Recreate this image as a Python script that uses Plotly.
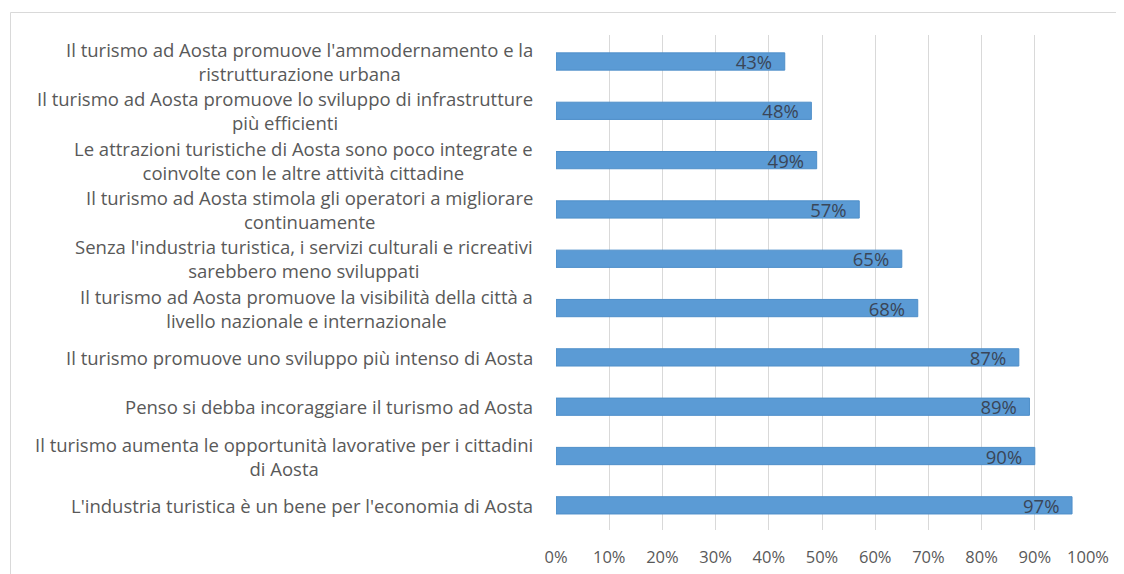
import plotly.graph_objects as go

categories = [
    "Il turismo ad Aosta promuove l'ammodernamento e la<br>ristrutturazione urbana",
    "Il turismo ad Aosta promuove lo sviluppo di infrastrutture<br>più efficienti",
    "Le attrazioni turistiche di Aosta sono poco integrate e<br>coinvolte con le altre attività cittadine",
    "Il turismo ad Aosta stimola gli operatori a migliorare<br>continuamente",
    "Senza l'industria turistica, i servizi culturali e ricreativi<br>sarebbero meno sviluppati",
    "Il turismo ad Aosta promuove la visibilità della città a<br>livello nazionale e internazionale",
    "Il turismo promuove uno sviluppo più intenso di Aosta",
    "Penso si debba incoraggiare il turismo ad Aosta",
    "Il turismo aumenta le opportunità lavorative per i cittadini<br>di Aosta",
    "L'industria turistica è un bene per l'economia di Aosta",
]
values = [0.43, 0.48, 0.49, 0.57, 0.65, 0.68, 0.87, 0.89, 0.90, 0.97]
tick_vals = [0, 0.1, 0.2, 0.3, 0.4, 0.5, 0.6, 0.7, 0.8, 0.9, 1.0]
tick_text = ["0%", "10%", "20%", "30%", "40%", "50%", "60%", "70%", "80%", "90%", "100%"]

# page has an 8px body margin; figure coordinates are page coordinates minus 8
OFF = 8
W, H = 1124 - OFF, 574 - OFF
ML, MR, MT, MB = 556 - OFF, 36, 35 - OFF, 44
PW = W - ML - MR
PH = H - MT - MB

FONT = "'Open Sans', sans-serif"

fig = go.Figure()
fig.add_trace(go.Bar(
    x=values,
    y=categories,
    orientation="h",
    marker=dict(color="#5B9BD5", line=dict(color="#4F8FC9", width=1)),
    text=[f"{round(v*100)}%\u00a0\u00a0" for v in values],
    textposition="inside",
    insidetextanchor="end",
    constraintext="none",
    textfont=dict(family=FONT, size=18.5, color="#3A4658"),
    width=0.35,
    hoverinfo="skip",
))

# category labels: centred multi-line text, right edge of the label column
for c in categories:
    fig.add_annotation(
        x=(535 - 556) / PW, xref="paper", y=c, yref="y",
        text=c, showarrow=False, xanchor="right", yanchor="middle",
        align="center", font=dict(family=FONT, size=18.5, color="#595959"),
    )

fig.add_shape(
    type="rect", xref="paper", yref="paper",
    x0=(10.5 - 556) / PW, x1=(1200 - 556) / PW,
    y0=-(700 - 530) / PH, y1=1 + (35 - 12.5) / PH,
    line=dict(color="#D9D9D9", width=1), fillcolor="rgba(0,0,0,0)", layer="below",
)

fig.update_layout(
    width=W, height=H,
    margin=dict(l=ML, r=MR, t=MT, b=MB, pad=0, autoexpand=False),
    paper_bgcolor="white", plot_bgcolor="white",
    showlegend=False,
    bargap=0.65,
    xaxis=dict(
        range=[0, 1.0], tickvals=tick_vals, ticktext=tick_text,
        showgrid=True, gridcolor="#D9D9D9", gridwidth=1,
        zeroline=False, showline=False, ticks="",
        tickfont=dict(family=FONT, size=16.5, color="#595959"),
        ticklabelstandoff=15, automargin=False,
    ),
    yaxis=dict(
        autorange="reversed", showticklabels=False, showgrid=False,
        zeroline=False, showline=False, ticks="", automargin=False,
    ),
)

fig.write_html("out.html")
